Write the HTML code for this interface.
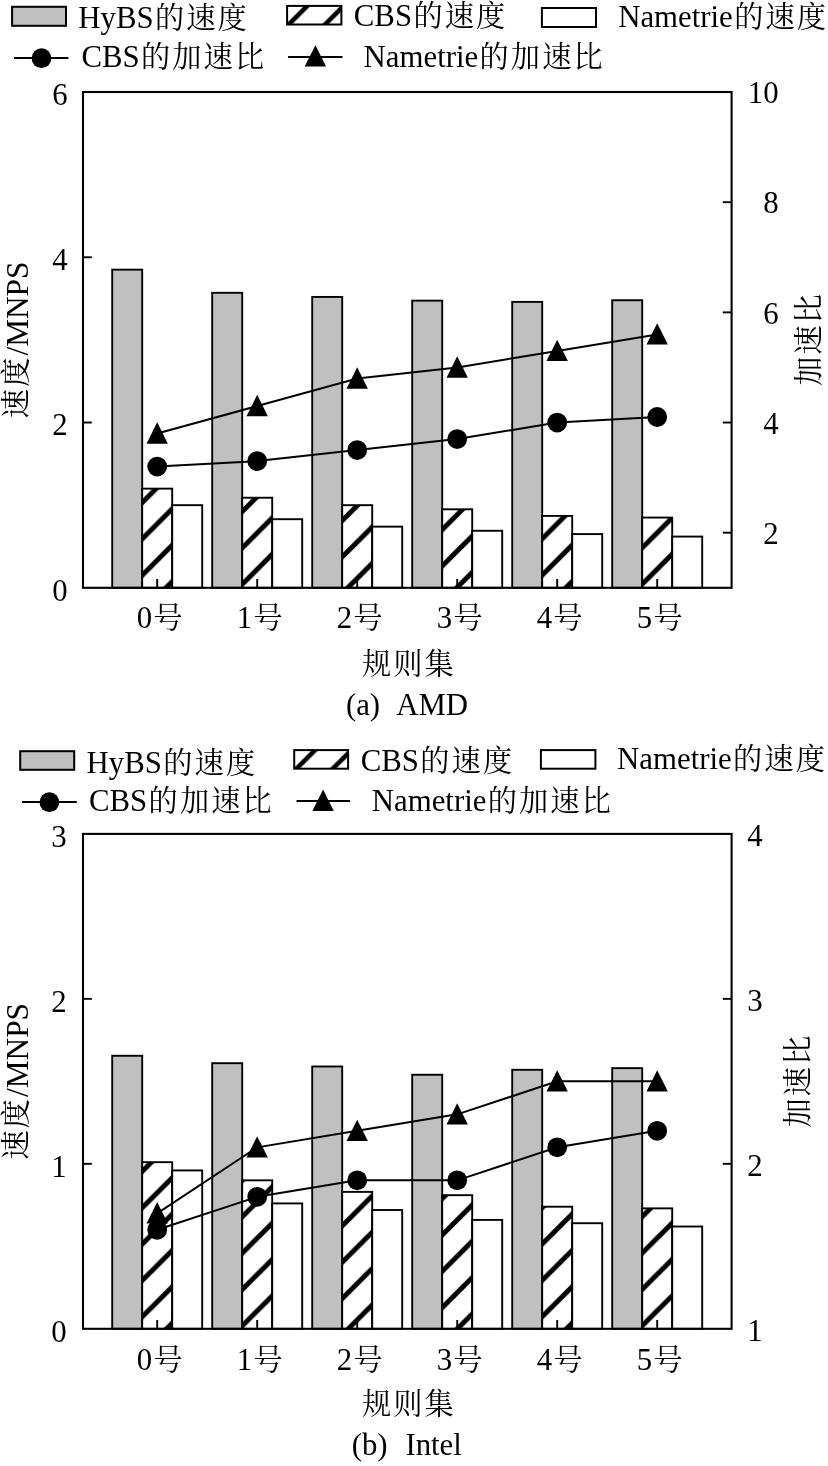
<!DOCTYPE html>
<html lang="zh"><head><meta charset="utf-8"><title>chart</title>
<style>
html,body{margin:0;padding:0;background:#fff;}
svg{display:block;}
text{font-family:"Liberation Serif","Noto Serif CJK SC",serif;font-size:30.8px;fill:#000;}
.c{font-size:29.2px;letter-spacing:2.1px;font-weight:400;}
</style></head><body>
<svg width="828" height="1466" viewBox="0 0 828 1466">
<rect width="828" height="1466" fill="#fff"/>
<defs><pattern id="lh1" patternUnits="userSpaceOnUse" width="36.35" height="36.35" x="22.4" y="0"><rect width="36.35" height="36.35" fill="#fff"/><path d="M-4 40.35L40.35 -4M-40.35 40.35L4 -4M32.35 40.35L76.7 -4" stroke="#000" stroke-width="4.6" fill="none"/></pattern></defs>
<rect x="12.1" y="6.8" width="53.90" height="19.00" fill="#c0c0c0" stroke="#000" stroke-width="2"/>
<text x="78.3" y="27.7">HyBS<tspan class="c" dx="1.4">的速度</tspan></text>
<rect x="287.1" y="5.9" width="54.30" height="18.60" fill="url(#lh1)" stroke="#000" stroke-width="2"/>
<text x="353.8" y="26.3">CBS<tspan class="c" dx="1.4">的速度</tspan></text>
<rect x="541.9" y="8.0" width="54.10" height="19.00" fill="#fff" stroke="#000" stroke-width="2"/>
<text x="618.2" y="26.6">Nametrie<tspan class="c" dx="1.4">的速度</tspan></text>
<line x1="14.1" x2="68.4" y1="58.0" y2="58.0" stroke="#000" stroke-width="2.0"/>
<circle cx="41.5" cy="58.2" r="9.9"/>
<text x="81.4" y="67.2">CBS<tspan class="c" dx="1.4">的加速比</tspan></text>
<line x1="288.1" x2="342.5" y1="57.0" y2="57.0" stroke="#000" stroke-width="2.0"/>
<path d="M315.40 45.20L326.10 66.60H304.70Z"/>
<text x="363.6" y="66.6">Nametrie<tspan class="c" dx="1.4">的加速比</tspan></text>
<defs><pattern id="h1" patternUnits="userSpaceOnUse" width="36.35" height="36.35" x="26.8" y="0"><rect width="36.35" height="36.35" fill="#fff"/><path d="M-4 40.35L40.35 -4M-40.35 40.35L4 -4M32.35 40.35L76.7 -4" stroke="#000" stroke-width="5.0" fill="none"/></pattern></defs>
<rect x="112.20" y="269.66" width="30.00" height="318.14" fill="#c0c0c0" stroke="#000" stroke-width="1.9"/>
<rect x="142.20" y="488.64" width="30.00" height="99.16" fill="url(#h1)" stroke="#000" stroke-width="1.9"/>
<rect x="172.20" y="505.17" width="30.00" height="82.63" fill="#fff" stroke="#000" stroke-width="1.9"/>
<rect x="212.20" y="292.80" width="30.00" height="295.00" fill="#c0c0c0" stroke="#000" stroke-width="1.9"/>
<rect x="242.20" y="497.73" width="30.00" height="90.07" fill="url(#h1)" stroke="#000" stroke-width="1.9"/>
<rect x="272.20" y="519.21" width="30.00" height="68.59" fill="#fff" stroke="#000" stroke-width="1.9"/>
<rect x="312.20" y="296.93" width="30.00" height="290.87" fill="#c0c0c0" stroke="#000" stroke-width="1.9"/>
<rect x="342.20" y="505.17" width="30.00" height="82.63" fill="url(#h1)" stroke="#000" stroke-width="1.9"/>
<rect x="372.20" y="526.65" width="30.00" height="61.15" fill="#fff" stroke="#000" stroke-width="1.9"/>
<rect x="412.20" y="300.65" width="30.00" height="287.15" fill="#c0c0c0" stroke="#000" stroke-width="1.9"/>
<rect x="442.20" y="509.30" width="30.00" height="78.50" fill="url(#h1)" stroke="#000" stroke-width="1.9"/>
<rect x="472.20" y="530.78" width="30.00" height="57.02" fill="#fff" stroke="#000" stroke-width="1.9"/>
<rect x="512.20" y="301.89" width="30.00" height="285.91" fill="#c0c0c0" stroke="#000" stroke-width="1.9"/>
<rect x="542.20" y="515.91" width="30.00" height="71.89" fill="url(#h1)" stroke="#000" stroke-width="1.9"/>
<rect x="572.20" y="534.09" width="30.00" height="53.71" fill="#fff" stroke="#000" stroke-width="1.9"/>
<rect x="612.20" y="300.24" width="30.00" height="287.56" fill="#c0c0c0" stroke="#000" stroke-width="1.9"/>
<rect x="642.20" y="517.56" width="30.00" height="70.24" fill="url(#h1)" stroke="#000" stroke-width="1.9"/>
<rect x="672.20" y="536.57" width="30.00" height="51.23" fill="#fff" stroke="#000" stroke-width="1.9"/>
<rect x="83.0" y="92.0" width="648.60" height="495.80" fill="none" stroke="#000" stroke-width="2.1"/>
<text x="67.7" y="600.60" text-anchor="end">0</text>
<line x1="83.0" x2="91.8" y1="422.53" y2="422.53" stroke="#000" stroke-width="1.9"/>
<text x="67.7" y="435.33" text-anchor="end">2</text>
<line x1="83.0" x2="91.8" y1="257.27" y2="257.27" stroke="#000" stroke-width="1.9"/>
<text x="67.7" y="270.07" text-anchor="end">4</text>
<text x="67.7" y="104.80" text-anchor="end">6</text>
<line x1="731.6" x2="722.8000000000001" y1="532.71" y2="532.71" stroke="#000" stroke-width="1.9"/>
<text x="778.6" y="544.01" text-anchor="end">2</text>
<line x1="731.6" x2="722.8000000000001" y1="422.53" y2="422.53" stroke="#000" stroke-width="1.9"/>
<text x="778.6" y="433.83" text-anchor="end">4</text>
<line x1="731.6" x2="722.8000000000001" y1="312.36" y2="312.36" stroke="#000" stroke-width="1.9"/>
<text x="778.6" y="323.66" text-anchor="end">6</text>
<line x1="731.6" x2="722.8000000000001" y1="202.18" y2="202.18" stroke="#000" stroke-width="1.9"/>
<text x="778.6" y="213.48" text-anchor="end">8</text>
<text x="778.6" y="103.30" text-anchor="end">10</text>
<line x1="157.20" x2="157.20" y1="587.8" y2="579.0" stroke="#000" stroke-width="1.9"/>
<text x="160.70" y="627.70" text-anchor="middle">0<tspan class="c" dx="1.4">号</tspan></text>
<line x1="257.20" x2="257.20" y1="587.8" y2="579.0" stroke="#000" stroke-width="1.9"/>
<text x="260.70" y="627.70" text-anchor="middle">1<tspan class="c" dx="1.4">号</tspan></text>
<line x1="357.20" x2="357.20" y1="587.8" y2="579.0" stroke="#000" stroke-width="1.9"/>
<text x="360.70" y="627.70" text-anchor="middle">2<tspan class="c" dx="1.4">号</tspan></text>
<line x1="457.20" x2="457.20" y1="587.8" y2="579.0" stroke="#000" stroke-width="1.9"/>
<text x="460.70" y="627.70" text-anchor="middle">3<tspan class="c" dx="1.4">号</tspan></text>
<line x1="557.20" x2="557.20" y1="587.8" y2="579.0" stroke="#000" stroke-width="1.9"/>
<text x="560.70" y="627.70" text-anchor="middle">4<tspan class="c" dx="1.4">号</tspan></text>
<line x1="657.20" x2="657.20" y1="587.8" y2="579.0" stroke="#000" stroke-width="1.9"/>
<text x="660.70" y="627.70" text-anchor="middle">5<tspan class="c" dx="1.4">号</tspan></text>
<polyline fill="none" stroke="#000" stroke-width="2.0" points="157.20,466.60 257.20,461.10 357.20,450.08 457.20,439.06 557.20,422.53 657.20,417.02"/>
<circle cx="157.20" cy="466.60" r="9.9"/>
<circle cx="257.20" cy="461.10" r="9.9"/>
<circle cx="357.20" cy="450.08" r="9.9"/>
<circle cx="457.20" cy="439.06" r="9.9"/>
<circle cx="557.20" cy="422.53" r="9.9"/>
<circle cx="657.20" cy="417.02" r="9.9"/>
<polyline fill="none" stroke="#000" stroke-width="2.0" points="157.20,433.55 257.20,406.01 357.20,378.46 457.20,367.44 557.20,350.92 657.20,334.39"/>
<path d="M157.20 422.35L167.90 443.75H146.50Z"/>
<path d="M257.20 394.81L267.90 416.21H246.50Z"/>
<path d="M357.20 367.26L367.90 388.66H346.50Z"/>
<path d="M457.20 356.24L467.90 377.64H446.50Z"/>
<path d="M557.20 339.72L567.90 361.12H546.50Z"/>
<path d="M657.20 323.19L667.90 344.59H646.50Z"/>
<text transform="translate(27.8,341.3) rotate(-90)" text-anchor="middle" style="font-size:31.3px"><tspan class="c" dx="1.4" dy="-1.5">速度</tspan><tspan dy="1.5">/MNPS</tspan></text>
<text transform="translate(819,340.2) rotate(-90)" text-anchor="middle"><tspan class="c" dx="1.4">加速比</tspan></text>
<text x="407.5" y="673.5" text-anchor="middle"><tspan class="c" dx="1.4">规则集</tspan></text>
<text x="345.9" y="715" xml:space="preserve" style="word-spacing:1.2px">(a)  AMD</text>
<defs><pattern id="lh2" patternUnits="userSpaceOnUse" width="36.35" height="36.35" x="11.0" y="0"><rect width="36.35" height="36.35" fill="#fff"/><path d="M-4 40.35L40.35 -4M-40.35 40.35L4 -4M32.35 40.35L76.7 -4" stroke="#000" stroke-width="4.6" fill="none"/></pattern></defs>
<rect x="20.2" y="751.2" width="54.00" height="18.60" fill="#c0c0c0" stroke="#000" stroke-width="2"/>
<text x="86.6" y="772.8">HyBS<tspan class="c" dx="1.4">的速度</tspan></text>
<rect x="294.2" y="750.1" width="53.90" height="18.60" fill="url(#lh2)" stroke="#000" stroke-width="2"/>
<text x="360.7" y="770.5">CBS<tspan class="c" dx="1.4">的速度</tspan></text>
<rect x="540.9" y="750.1" width="54.50" height="18.60" fill="#fff" stroke="#000" stroke-width="2"/>
<text x="617.1" y="768.6">Nametrie<tspan class="c" dx="1.4">的速度</tspan></text>
<line x1="22.0" x2="76.8" y1="801.9" y2="801.9" stroke="#000" stroke-width="2.0"/>
<circle cx="49.4" cy="802.2" r="9.9"/>
<text x="89.0" y="811.2">CBS<tspan class="c" dx="1.4">的加速比</tspan></text>
<line x1="296.5" x2="350.2" y1="800.9" y2="800.9" stroke="#000" stroke-width="2.0"/>
<path d="M323.10 789.55L333.80 810.95H312.40Z"/>
<text x="371.8" y="810.6">Nametrie<tspan class="c" dx="1.4">的加速比</tspan></text>
<defs><pattern id="h2" patternUnits="userSpaceOnUse" width="36.35" height="36.35" x="5.05" y="0"><rect width="36.35" height="36.35" fill="#fff"/><path d="M-4 40.35L40.35 -4M-40.35 40.35L4 -4M32.35 40.35L76.7 -4" stroke="#000" stroke-width="5.0" fill="none"/></pattern></defs>
<rect x="112.20" y="1055.78" width="30.00" height="273.02" fill="#c0c0c0" stroke="#000" stroke-width="1.9"/>
<rect x="142.20" y="1162.18" width="30.00" height="166.62" fill="url(#h2)" stroke="#000" stroke-width="1.9"/>
<rect x="172.20" y="1170.43" width="30.00" height="158.37" fill="#fff" stroke="#000" stroke-width="1.9"/>
<rect x="212.20" y="1063.20" width="30.00" height="265.60" fill="#c0c0c0" stroke="#000" stroke-width="1.9"/>
<rect x="242.20" y="1180.33" width="30.00" height="148.47" fill="url(#h2)" stroke="#000" stroke-width="1.9"/>
<rect x="272.20" y="1203.43" width="30.00" height="125.37" fill="#fff" stroke="#000" stroke-width="1.9"/>
<rect x="312.20" y="1066.50" width="30.00" height="262.30" fill="#c0c0c0" stroke="#000" stroke-width="1.9"/>
<rect x="342.20" y="1191.88" width="30.00" height="136.92" fill="url(#h2)" stroke="#000" stroke-width="1.9"/>
<rect x="372.20" y="1210.02" width="30.00" height="118.78" fill="#fff" stroke="#000" stroke-width="1.9"/>
<rect x="412.20" y="1074.75" width="30.00" height="254.05" fill="#c0c0c0" stroke="#000" stroke-width="1.9"/>
<rect x="442.20" y="1195.18" width="30.00" height="133.62" fill="url(#h2)" stroke="#000" stroke-width="1.9"/>
<rect x="472.20" y="1219.92" width="30.00" height="108.88" fill="#fff" stroke="#000" stroke-width="1.9"/>
<rect x="512.20" y="1069.80" width="30.00" height="259.00" fill="#c0c0c0" stroke="#000" stroke-width="1.9"/>
<rect x="542.20" y="1206.72" width="30.00" height="122.08" fill="url(#h2)" stroke="#000" stroke-width="1.9"/>
<rect x="572.20" y="1223.22" width="30.00" height="105.58" fill="#fff" stroke="#000" stroke-width="1.9"/>
<rect x="612.20" y="1068.15" width="30.00" height="260.65" fill="#c0c0c0" stroke="#000" stroke-width="1.9"/>
<rect x="642.20" y="1208.37" width="30.00" height="120.43" fill="url(#h2)" stroke="#000" stroke-width="1.9"/>
<rect x="672.20" y="1226.52" width="30.00" height="102.28" fill="#fff" stroke="#000" stroke-width="1.9"/>
<rect x="83.0" y="833.9" width="648.60" height="494.90" fill="none" stroke="#000" stroke-width="2.1"/>
<text x="66.7" y="1341.60" text-anchor="end">0</text>
<line x1="83.0" x2="91.8" y1="1163.83" y2="1163.83" stroke="#000" stroke-width="1.9"/>
<text x="66.7" y="1176.63" text-anchor="end">1</text>
<line x1="83.0" x2="91.8" y1="998.87" y2="998.87" stroke="#000" stroke-width="1.9"/>
<text x="66.7" y="1011.67" text-anchor="end">2</text>
<text x="66.7" y="846.70" text-anchor="end">3</text>
<text x="762.7" y="1341.20" text-anchor="end">1</text>
<line x1="731.6" x2="722.8000000000001" y1="1163.83" y2="1163.83" stroke="#000" stroke-width="1.9"/>
<text x="762.7" y="1176.23" text-anchor="end">2</text>
<line x1="731.6" x2="722.8000000000001" y1="998.87" y2="998.87" stroke="#000" stroke-width="1.9"/>
<text x="762.7" y="1011.27" text-anchor="end">3</text>
<text x="762.7" y="846.30" text-anchor="end">4</text>
<line x1="157.20" x2="157.20" y1="1328.8" y2="1320.0" stroke="#000" stroke-width="1.9"/>
<text x="160.70" y="1369.70" text-anchor="middle">0<tspan class="c" dx="1.4">号</tspan></text>
<line x1="257.20" x2="257.20" y1="1328.8" y2="1320.0" stroke="#000" stroke-width="1.9"/>
<text x="260.70" y="1369.70" text-anchor="middle">1<tspan class="c" dx="1.4">号</tspan></text>
<line x1="357.20" x2="357.20" y1="1328.8" y2="1320.0" stroke="#000" stroke-width="1.9"/>
<text x="360.70" y="1369.70" text-anchor="middle">2<tspan class="c" dx="1.4">号</tspan></text>
<line x1="457.20" x2="457.20" y1="1328.8" y2="1320.0" stroke="#000" stroke-width="1.9"/>
<text x="460.70" y="1369.70" text-anchor="middle">3<tspan class="c" dx="1.4">号</tspan></text>
<line x1="557.20" x2="557.20" y1="1328.8" y2="1320.0" stroke="#000" stroke-width="1.9"/>
<text x="560.70" y="1369.70" text-anchor="middle">4<tspan class="c" dx="1.4">号</tspan></text>
<line x1="657.20" x2="657.20" y1="1328.8" y2="1320.0" stroke="#000" stroke-width="1.9"/>
<text x="660.70" y="1369.70" text-anchor="middle">5<tspan class="c" dx="1.4">号</tspan></text>
<polyline fill="none" stroke="#000" stroke-width="2.0" points="157.20,1229.82 257.20,1196.83 357.20,1180.33 457.20,1180.33 557.20,1147.34 657.20,1130.84"/>
<circle cx="157.20" cy="1229.82" r="9.9"/>
<circle cx="257.20" cy="1196.83" r="9.9"/>
<circle cx="357.20" cy="1180.33" r="9.9"/>
<circle cx="457.20" cy="1180.33" r="9.9"/>
<circle cx="557.20" cy="1147.34" r="9.9"/>
<circle cx="657.20" cy="1130.84" r="9.9"/>
<polyline fill="none" stroke="#000" stroke-width="2.0" points="157.20,1213.32 257.20,1147.34 357.20,1130.84 457.20,1114.34 557.20,1081.35 657.20,1081.35"/>
<path d="M157.20 1202.12L167.90 1223.52H146.50Z"/>
<path d="M257.20 1136.14L267.90 1157.54H246.50Z"/>
<path d="M357.20 1119.64L367.90 1141.04H346.50Z"/>
<path d="M457.20 1103.14L467.90 1124.54H446.50Z"/>
<path d="M557.20 1070.15L567.90 1091.55H546.50Z"/>
<path d="M657.20 1070.15L667.90 1091.55H646.50Z"/>
<text transform="translate(27.8,1082.7) rotate(-90)" text-anchor="middle" style="font-size:31.3px"><tspan class="c" dx="1.4" dy="-1.5">速度</tspan><tspan dy="1.5">/MNPS</tspan></text>
<text transform="translate(807.8,1081.9) rotate(-90)" text-anchor="middle"><tspan class="c" dx="1.4">加速比</tspan></text>
<text x="407.5" y="1414.2" text-anchor="middle"><tspan class="c" dx="1.4">规则集</tspan></text>
<text x="351.7" y="1454.8" xml:space="preserve" style="word-spacing:1.2px">(b)  Intel</text>
</svg>
</body></html>
